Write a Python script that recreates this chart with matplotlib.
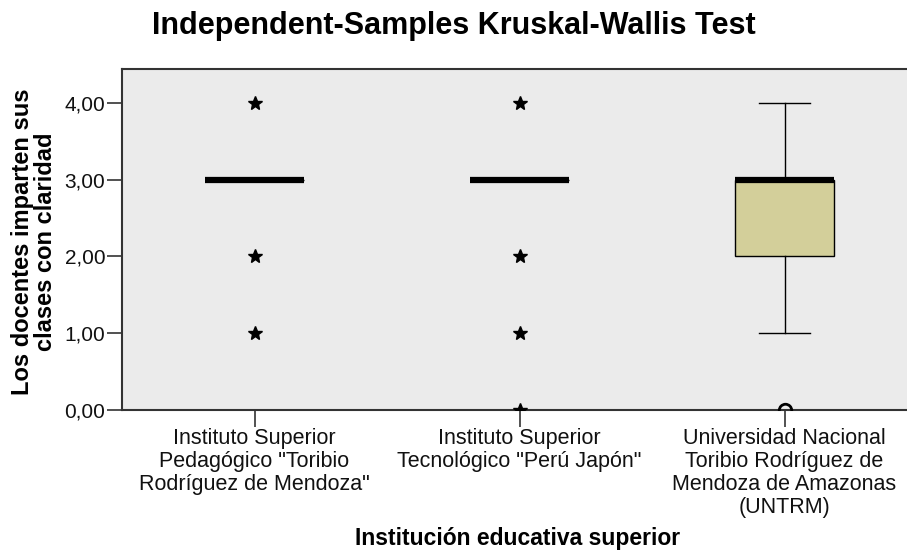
import matplotlib.pyplot as plt

plt.rcParams['font.family'] = ['Liberation Sans', 'DejaVu Sans']

groups = ['Instituto Superior\nPedagógico "Toribio\nRodríguez de Mendoza"',
          'Instituto Superior\nTecnológico "Perú Japón"',
          'Universidad Nacional\nToribio Rodríguez de\nMendoza de Amazonas\n(UNTRM)']
med = [3, 3, 3]
q1 = [3, 3, 2]
q3 = [3, 3, 3]
wlo = [3, 3, 1]
whi = [3, 3, 4]
# extreme values (stars) and outliers (circles) per group
extremes = [[4, 2, 1], [4, 2, 1, 0], []]
outliers = [[], [], [0]]
yticks = [0, 1, 2, 3, 4]

fig = plt.figure(figsize=(9.07, 5.51), dpi=100)
ax = fig.add_axes([122/907, 141/551, 795/907, 341/551])
ax.set_facecolor('#ebebeb')

stats = []
for i in range(len(groups)):
    stats.append({'med': med[i], 'q1': q1[i], 'q3': q3[i],
                  'whislo': wlo[i], 'whishi': whi[i], 'fliers': []})
pos = list(range(len(groups)))
ax.bxp(stats, positions=pos, widths=0.375, patch_artist=True, showfliers=False,
       boxprops=dict(facecolor='#d3cf9a', edgecolor='black', linewidth=1),
       medianprops=dict(color='black', linewidth=4.5, solid_capstyle='butt'),
       whiskerprops=dict(color='black', linewidth=1),
       capprops=dict(color='black', linewidth=1), capwidths=0.19)

for i in pos:
    for v in extremes[i]:
        ax.plot(i, v, marker='*', color='black', markersize=10.5, zorder=5)
    for v in outliers[i]:
        ax.plot(i, v, marker='o', markerfacecolor='none', markeredgecolor='black',
                markersize=9, markeredgewidth=2, zorder=5)

ax.set_xlim(-0.5, 2.5)
ax.set_ylim(0, 4.44)
ax.set_yticks(yticks)
ax.set_yticklabels(['%d,00' % v for v in yticks], fontsize=15)
ax.set_xticks(pos)
ax.set_xticklabels(groups, fontsize=15.5, linespacing=1.12)
ax.tick_params(axis='y', length=11, width=1.2, color='#333333', pad=1, labelcolor='#111111')
ax.tick_params(axis='x', length=12, width=1.2, color='#333333', pad=1, labelcolor='#111111')
for s in ax.spines.values():
    s.set_color('#333333')
    s.set_linewidth(1.5)

fig.text(34.5/907, 0.562, 'Los docentes imparten sus\nclases con claridad', fontsize=17,
         fontweight='bold', linespacing=1.0, rotation=90, ha='center', va='center')
fig.text(518/907, 1 - 539/551, 'Institución educativa superior', fontsize=16.5,
         fontweight='bold', ha='center', va='center')
fig.text(0.5, 1 - 26/551, 'Independent-Samples Kruskal-Wallis Test', fontsize=22,
         fontweight='bold', ha='center', va='center')

fig.savefig('out.png', dpi=100)
